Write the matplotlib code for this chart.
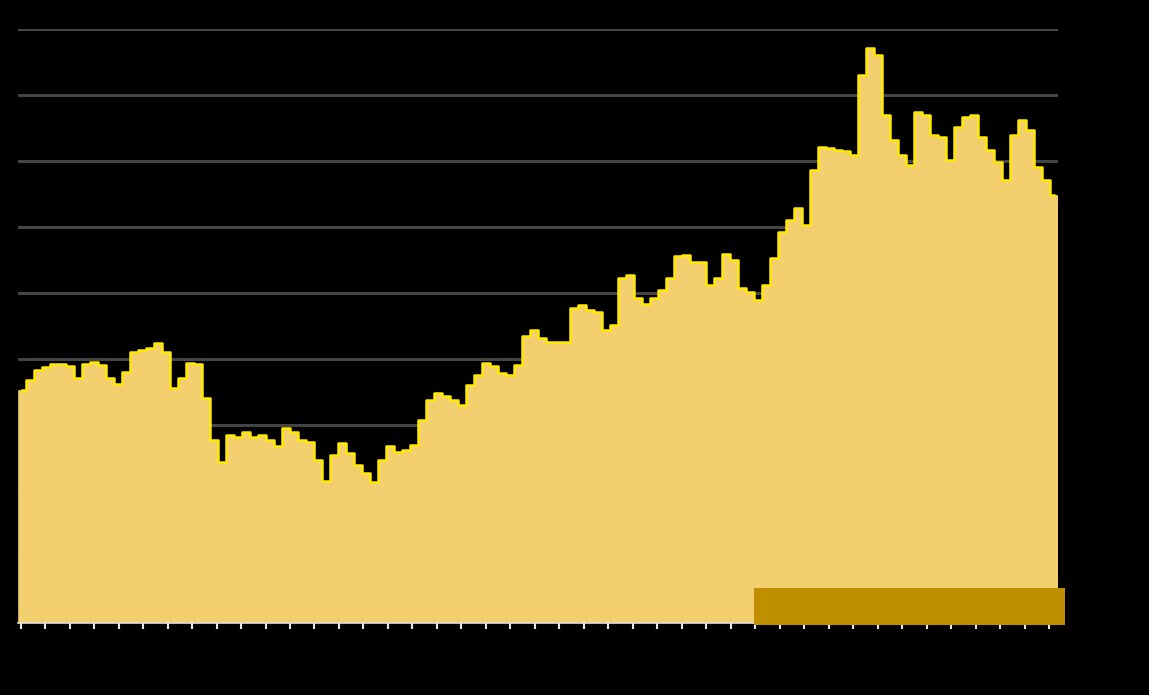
import numpy as np
import matplotlib
matplotlib.use("Agg")
import matplotlib.pyplot as plt
from matplotlib.patches import Rectangle

# bar heights (grid step = 10)
values = [
    35.3, 36.8, 38.3, 38.8, 39.2, 39.2, 38.9, 37.1, 39.2, 39.5,
    39.1, 37.1, 36.2, 38.0, 41.1, 41.4, 41.7, 42.4, 41.1, 35.6,
    37.1, 39.4, 39.2, 34.1, 27.7, 24.4, 28.5, 28.2, 28.9, 28.2,
    28.5, 27.7, 26.8, 29.5, 28.9, 27.7, 27.4, 24.7, 21.5, 25.5,
    27.3, 25.8, 23.9, 22.7, 21.4, 24.7, 26.8, 25.9, 26.2, 27.0,
    30.8, 33.8, 34.8, 34.4, 33.8, 33.0, 36.1, 37.6, 39.4, 38.9,
    37.9, 37.6, 39.1, 43.5, 44.4, 43.2, 42.6, 42.6, 42.6, 47.7,
    48.2, 47.4, 47.1, 44.4, 45.2, 52.3, 52.7, 49.2, 48.3, 49.2,
    50.5, 52.3, 55.6, 55.8, 54.7, 54.7, 51.2, 52.3, 55.9, 55.0,
    50.8, 50.2, 48.9, 51.2, 55.3, 59.2, 61.1, 62.9, 60.3, 68.6,
    72.1, 72.0, 71.7, 71.5, 70.9, 83.0, 87.1, 86.1, 77.0, 73.2,
    70.9, 69.4, 77.4, 77.0, 73.9, 73.6, 70.2, 75.2, 76.7, 77.0,
    73.6, 71.7, 69.8, 67.1, 73.9, 76.2, 74.7, 69.1, 67.1, 64.8,
]
y_ticks = [0, 10, 20, 30, 40, 50, 60, 70, 80, 90]

fig = plt.figure(figsize=(11.49, 6.95), dpi=100, facecolor="black")
ax = fig.add_axes([18 / 1149, 72 / 695, 1040 / 1149, 594 / 695])
ax.set_facecolor("black")

x = np.arange(len(values))
ax.bar(x, values, width=1.0, color="#f4cf70", edgecolor="#f8dc66",
       linewidth=0.4, zorder=2)
# bright yellow rim along the tops
ax.step(x, values, where="mid", color="#ffea00", linewidth=1.8, zorder=3)

ax.set_xlim(-0.5, len(values) - 0.5)
ax.set_ylim(0, 90)
ax.set_yticks(y_ticks)
ax.yaxis.grid(True, color="#454545", linewidth=2.2, zorder=0)
ax.set_axisbelow(True)
ax.tick_params(axis="y", length=0, labelleft=False)

# small white ticks along the base line
px = np.linspace(20.7, 1049, 43)
ax.set_xticks((px - 18) / 8 - 0.5)
ax.tick_params(axis="x", colors="#e8e8e8", length=4, width=1.5, labelbottom=False)

for s in ["top", "right", "left"]:
    ax.spines[s].set_visible(False)
ax.spines["bottom"].set_color("#e8e0d8")
ax.spines["bottom"].set_linewidth(1.2)
ax.spines["bottom"].set_zorder(4)

# gold box at bottom right
fig.add_artist(Rectangle((754 / 1149, 70 / 695), 311 / 1149, 37 / 695,
                         transform=fig.transFigure, facecolor="#bf8f00",
                         edgecolor="none", zorder=5))

fig.savefig("out.png", dpi=100, facecolor="black")
